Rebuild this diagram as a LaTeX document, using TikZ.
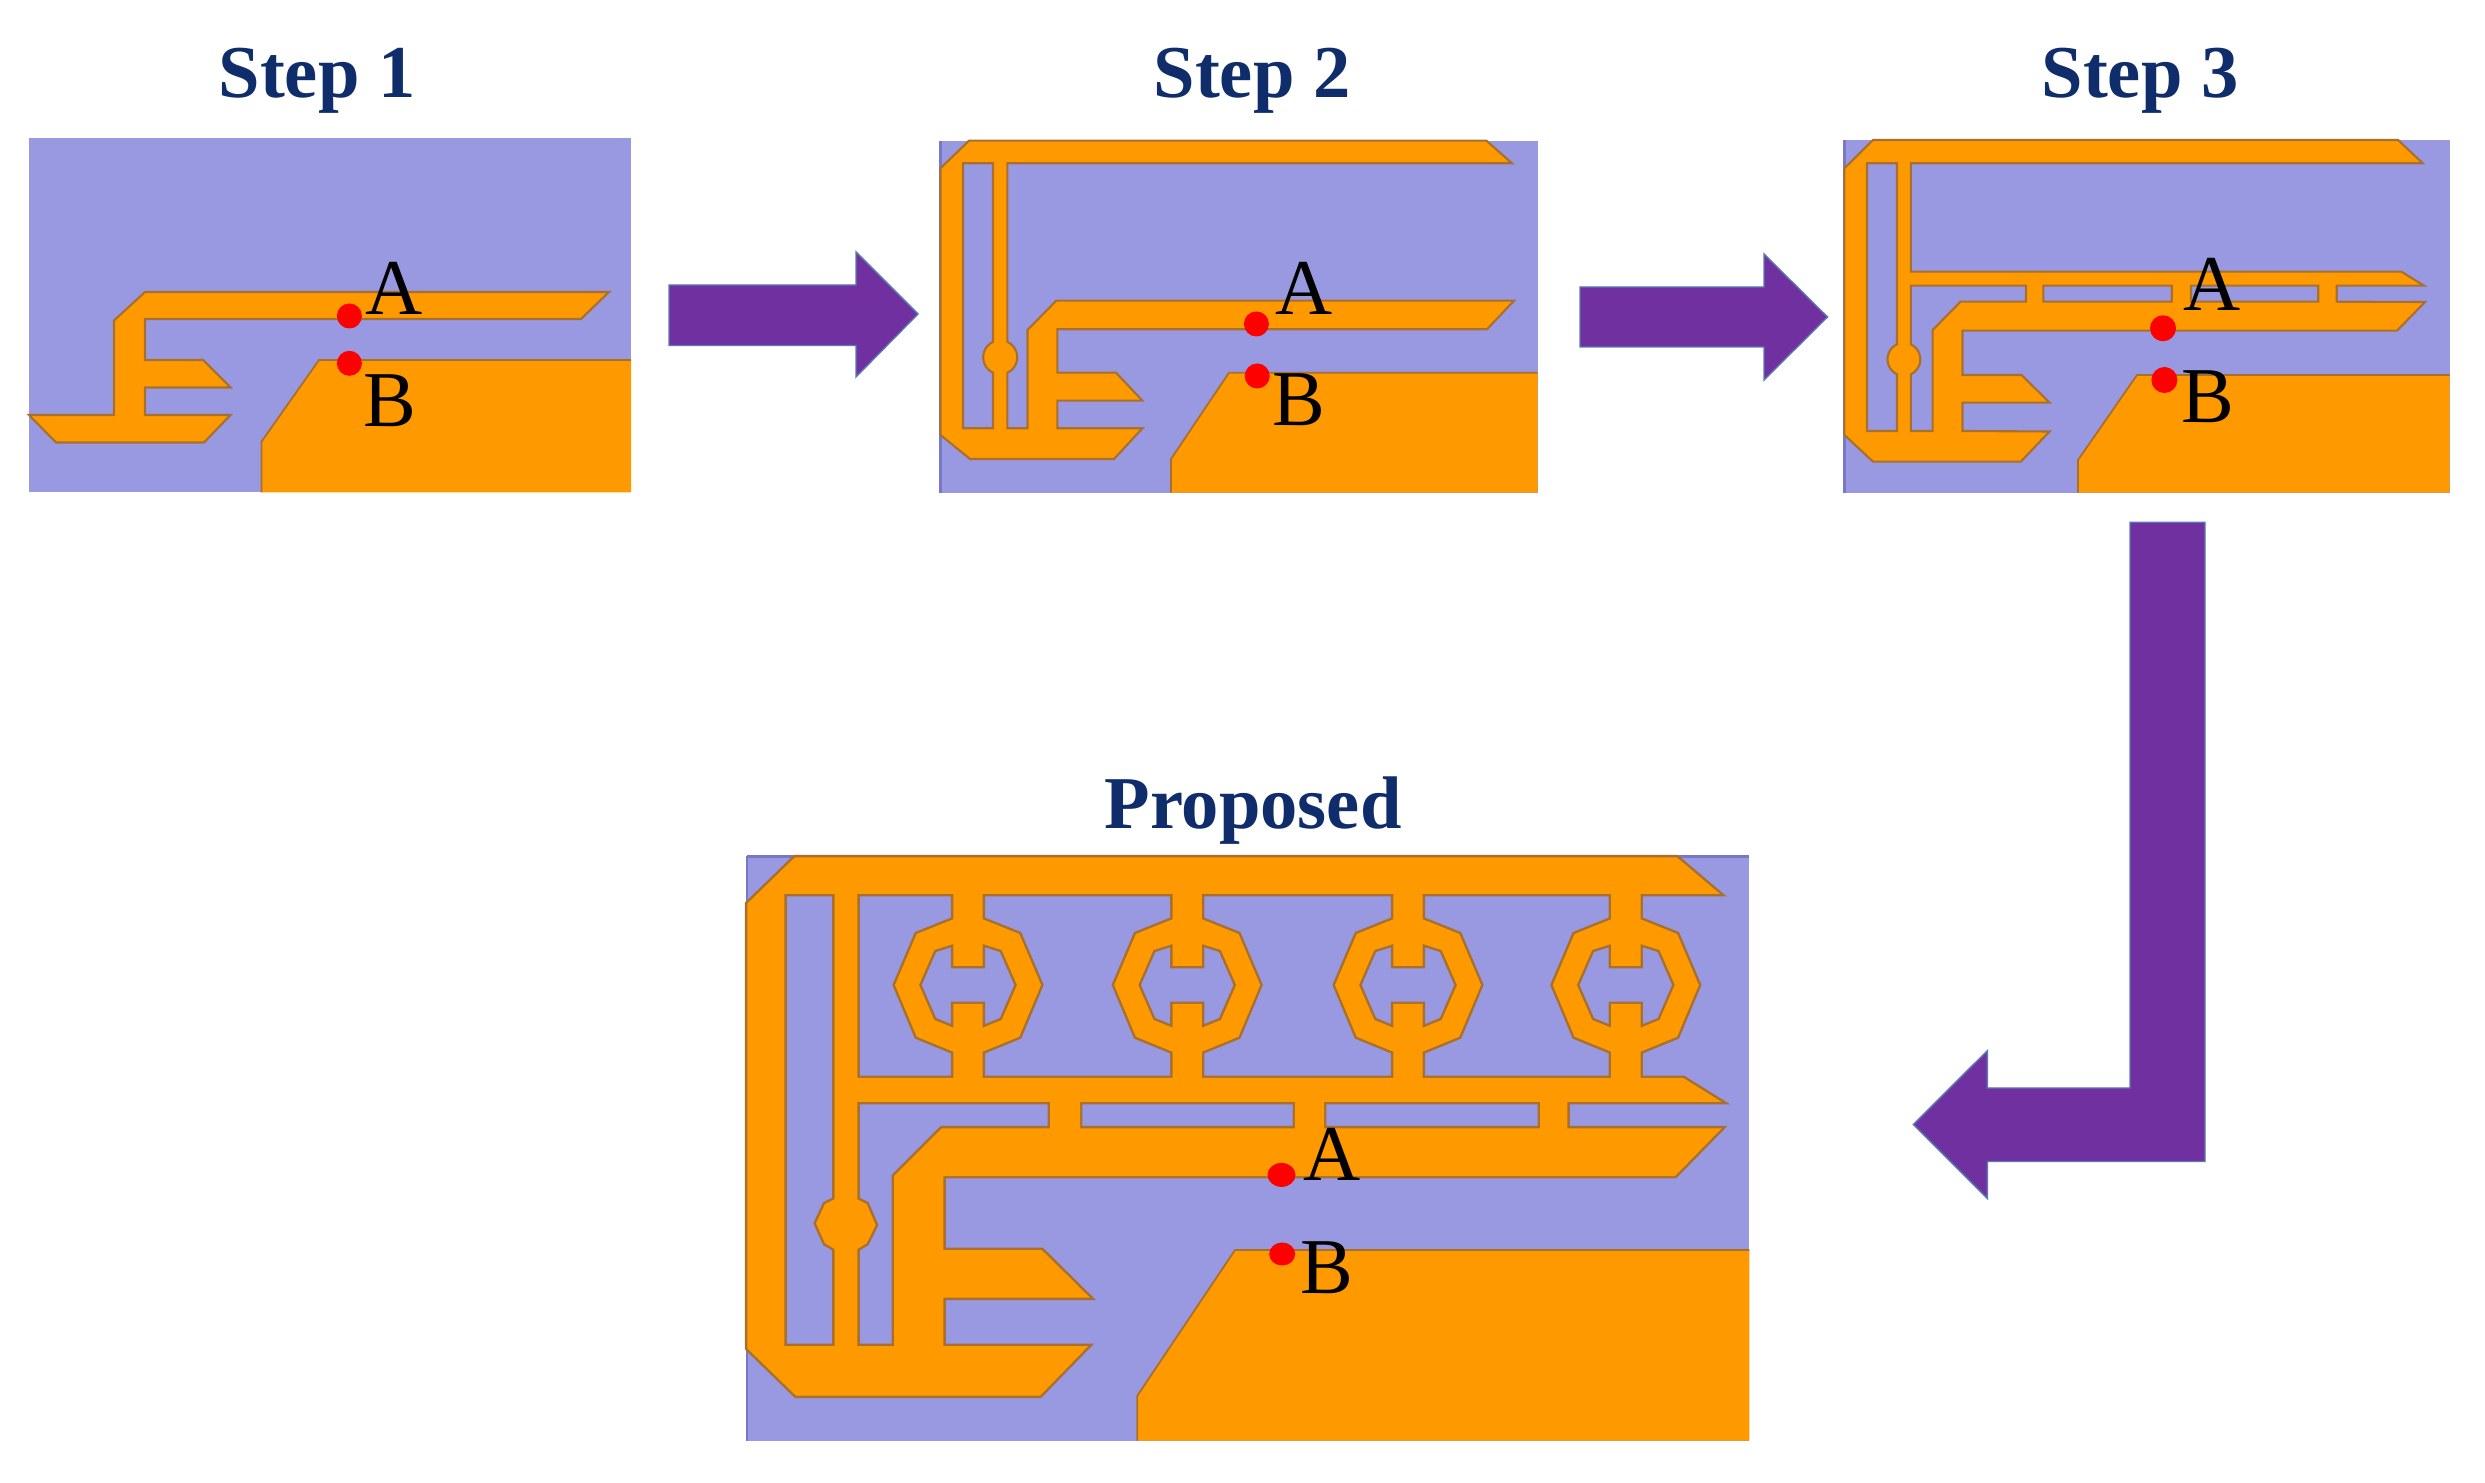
\documentclass[tikz,border=0pt]{standalone}
\usepackage{fontspec}
\setmainfont{Liberation Serif}

\definecolor{panelblue}{HTML}{9999E1}
\definecolor{sideblue}{HTML}{7878C8}
\definecolor{metalorange}{HTML}{FF9900}
\definecolor{metaledge}{HTML}{A8702E}
\definecolor{arrowpurple}{HTML}{7030A0}
\definecolor{arrowedge}{HTML}{5A78B4}
\definecolor{titlenavy}{HTML}{0F2C6B}

\newcommand{\ringpath}[1]{
  (#1-14.7,885) -- (#1+14.7,885) -- (#1+14.7,919.3) -- (#1+51.3,934) -- (#1+73,985) -- (#1+51.3,1036.7) -- (#1+14.7,1051.7) -- (#1+14.7,1085)
  -- (#1-14.7,1085) -- (#1-14.7,1051.7) -- (#1-51.3,1036.7) -- (#1-73,985) -- (#1-51.3,934) -- (#1-14.7,919.3) -- cycle
  (#1-14.7,944) -- (#1-33.7,950) -- (#1-49,985) -- (#1-33.7,1020) -- (#1-14.7,1027.7) -- (#1-14.7,1004) -- (#1+14.7,1004) -- (#1+14.7,1027.7)
  -- (#1+33.7,1020) -- (#1+49,985) -- (#1+33.7,950) -- (#1+14.7,944) -- (#1+14.7,966) -- (#1-14.7,966) -- cycle
}

\newcommand{\proposedpath}{
  (795,857.3) -- (1676.7,857.3) -- (1720,894) -- (857.3,894) -- (857.3,1078) -- (1683.3,1078) -- (1721.7,1102) -- (1567.3,1102) -- (1567.3,1128.3)
  -- (1721.7,1128.3) -- (1675,1176) -- (943.3,1176) -- (943.3,1250) -- (1041.7,1250) -- (1090,1297.7) -- (943.3,1297.7) -- (943.3,1346)
  -- (1088.3,1346) -- (1040,1395.7) -- (796,1395.7) -- (747.3,1348.3) -- (747.3,903.6) -- cycle
  (784.3,894) -- (784.3,1346) -- (834.6,1346) -- (834.6,1249) -- (825,1243.3) -- (816,1223.3) -- (825,1204) -- (834.6,1199.3) -- (834.6,894) -- cycle
  (857.3,1102) -- (857.3,1199.3) -- (866.7,1204) -- (875.7,1225) -- (866.7,1243.3) -- (857.3,1249) -- (857.3,1346) -- (894,1346) -- (894,1176)
  -- (941.7,1128.3) -- (1050,1128.3) -- (1050,1102) -- cycle
  (1080,1102) -- (1080,1128.3) -- (1295,1128.3) -- (1295,1102) -- cycle
  (1324,1102) -- (1324,1128.3) -- (1540,1128.3) -- (1540,1102) -- cycle
  \ringpath{968} \ringpath{1187.2} \ringpath{1408} \ringpath{1625.8}
}

\begin{document}
\begin{tikzpicture}[x=0.01cm, y=-0.01cm,
  panel/.style={fill=panelblue},
  sideline/.style={draw=sideblue, line width=0.7pt},
  metal/.style={fill=metalorange, draw=metaledge, line width=0.6pt, even odd rule},
  groundfill/.style={fill=metalorange},
  groundline/.style={draw=metaledge, line width=0.5pt},
  metalstroke/.style={draw=metaledge, line width=1.4pt},
  metalfill/.style={fill=metalorange},
  blockarrow/.style={fill=arrowpurple, draw=arrowedge, line width=0.4pt},
  probe/.style={fill=red},
  title/.style={anchor=base, inner sep=0pt, text=titlenavy, font=\fontsize{21.2}{22}\selectfont\bfseries},
  portlabel/.style={anchor=base, inner sep=0pt, font=\fontsize{22.5}{22.5}\selectfont}]

\useasboundingbox (0,0) rectangle (2485,1483);

\node(title1)[title] at (317, 98) {Step 1};
\node(title2)[title] at (1252, 98) {Step 2};
\node(title3)[title] at (2140, 98) {Step 3};
\node(title4)[title] at (1253, 829) {Proposed};

\fill[panel] (29,138.5) rectangle (631,492.5);
\draw[metal] (145,292) -- (609,292) -- (581,319) -- (145,319) -- (145,360) -- (203,360) -- (230.5,387.5) -- (145,387.5) -- (145,415) -- (230.5,415) -- (204,442.5) -- (56,442.5) -- (29,415) -- (114,415) -- (114,320.5) -- cycle;
\fill[groundfill] (319,360) -- (631,360) -- (631,492.5) -- (261.5,492.5) -- (261.5,441.7) -- cycle;
\draw[groundline] (631,360) -- (319,360) -- (261.5,441.7) -- (261.5,492.5);
\fill[probe] (349.4,316) circle [radius=0.125cm];
\fill[probe] (349.4,363.3) circle [radius=0.125cm];
\node(a1)[portlabel] at (394, 315) {A};
\node(b1)[portlabel] at (390, 426.7) {B};

\fill[panel] (940.5,140.7) rectangle (1537.5,492.7);
\draw[sideline] (940.5,140.7) -- (940.5,492.7);
\draw[metal] (969,140.7) -- (1486.4,140.7) -- (1512,163.3) -- (1007.4,163.3) -- (1007.4,341.9) arc [start angle=65, end angle=-65, radius=0.17cm] -- (1007.4,428.3) -- (1027.5,428.3) -- (1027.5,330) -- (1056.2,300.7) -- (1514,300.7) -- (1487,329.3) -- (1057.4,329.3) -- (1057.4,372.7) -- (1116,372.7) -- (1142.4,400.7) -- (1057.4,400.7) -- (1057.4,428.3) -- (1142.4,428.3) -- (1114,459) -- (970,459) -- (940.5,435) -- (940.5,168.3) -- cycle
  (963,163.3) -- (993,163.3) -- (993,341.9) arc [start angle=115, end angle=245, radius=0.17cm] -- (993,428.3) -- (963,428.3) -- cycle;
\fill[groundfill] (1229,372.7) -- (1537.5,372.7) -- (1537.5,492.7) -- (1171,492.7) -- (1171,459) -- cycle;
\draw[groundline] (1537.5,372.7) -- (1229,372.7) -- (1171,459) -- (1171,492.7);
\fill[probe] (1256.4,324) circle [radius=0.125cm];
\fill[probe] (1257.2,376) circle [radius=0.125cm];
\node(a2)[portlabel] at (1304, 315) {A};
\node(b2)[portlabel] at (1298.7, 426) {B};

\fill[panel] (1844.4,140) rectangle (2449.5,492.7);
\draw[sideline] (1844.4,140) -- (1844.4,492.7);
\draw[metal] (1873,140) -- (2398,140) -- (2422.7,163.3) -- (1910.8,163.3) -- (1910.8,271.7) -- (2401.4,271.7) -- (2424,285.7) -- (2336.7,285.7) -- (2336.7,301.7) -- (2425,302) -- (2397,330.7) -- (1962.5,330.7) -- (1962.5,375) -- (2021.6,375) -- (2049.5,402.7) -- (1962.5,402.7) -- (1962.5,431) -- (2049.5,431.5) -- (2020.8,461.7) -- (1873,461.7) -- (1844.4,435) -- (1844.4,168.3) -- cycle
  (1867,163.3) -- (1897,163.3) -- (1897,344.3) arc [start angle=115, end angle=245, radius=0.165cm] -- (1897,431) -- (1867,431) -- cycle
  (1910.8,285.7) -- (2026,285.7) -- (2026,301.7) -- (1960.5,301.7) -- (1932.6,330) -- (1932.6,431) -- (1910.8,431) -- (1910.8,374.3) arc [start angle=-65, end angle=65, radius=0.165cm] -- cycle
  (2043.3,285.7) rectangle (2171.7,301.7)
  (2191,285.7) rectangle (2318.2,301.7);
\fill[groundfill] (2137,375) -- (2449.5,375) -- (2449.5,492.7) -- (2078,492.7) -- (2078,460) -- cycle;
\draw[groundline] (2449.5,375) -- (2137,375) -- (2078,460) -- (2078,492.7);
\fill[probe] (2163,328.3) circle [radius=0.13cm];
\fill[probe] (2164.4,380) circle [radius=0.13cm];
\node(a3)[portlabel] at (2212.4, 310.7) {A};
\node(b3)[portlabel] at (2207.4, 422.7) {B};

\fill[panel] (747,855.9) rectangle (1749.3,1440.7);
\draw[sideline] (747,855.9) -- (747,1440.7);
\draw[sideline] (747,856.7) -- (1749.3,856.7);
\draw[metalstroke] \proposedpath;
\fill[metalfill] \proposedpath;
\fill[groundfill] (1235,1250) -- (1749.3,1250) -- (1749.3,1440.7) -- (1137.3,1440.7) -- (1137.3,1395.7) -- cycle;
\draw[groundline] (1749.3,1250) -- (1235,1250) -- (1137.3,1395.7) -- (1137.3,1440.7);
\fill[probe] (1281.5,1174.9) ellipse [x radius=0.14cm, y radius=0.12cm];
\fill[probe] (1282.2,1254) ellipse [x radius=0.13cm, y radius=0.115cm];
\node(a4)[portlabel] at (1331.7, 1181) {A};
\node(b4)[portlabel] at (1326.5, 1293) {B};

\draw[blockarrow] (669,285) -- (856,285) -- (856,252) -- (918,314) -- (856,377) -- (856,345.5) -- (669,345.5) -- cycle;
\draw[blockarrow] (1580,287) -- (1764,287) -- (1764,254) -- (1827.5,317) -- (1764,380) -- (1764,347) -- (1580,347) -- cycle;
\draw[blockarrow] (2130,522.3) -- (2205,522.3) -- (2205,1161.5) -- (1987.3,1161.5) -- (1987.3,1198.5) -- (1913.3,1124.5) -- (1987.3,1050.7) -- (1987.3,1088) -- (2130,1088) -- cycle;

\end{tikzpicture}
\end{document}
